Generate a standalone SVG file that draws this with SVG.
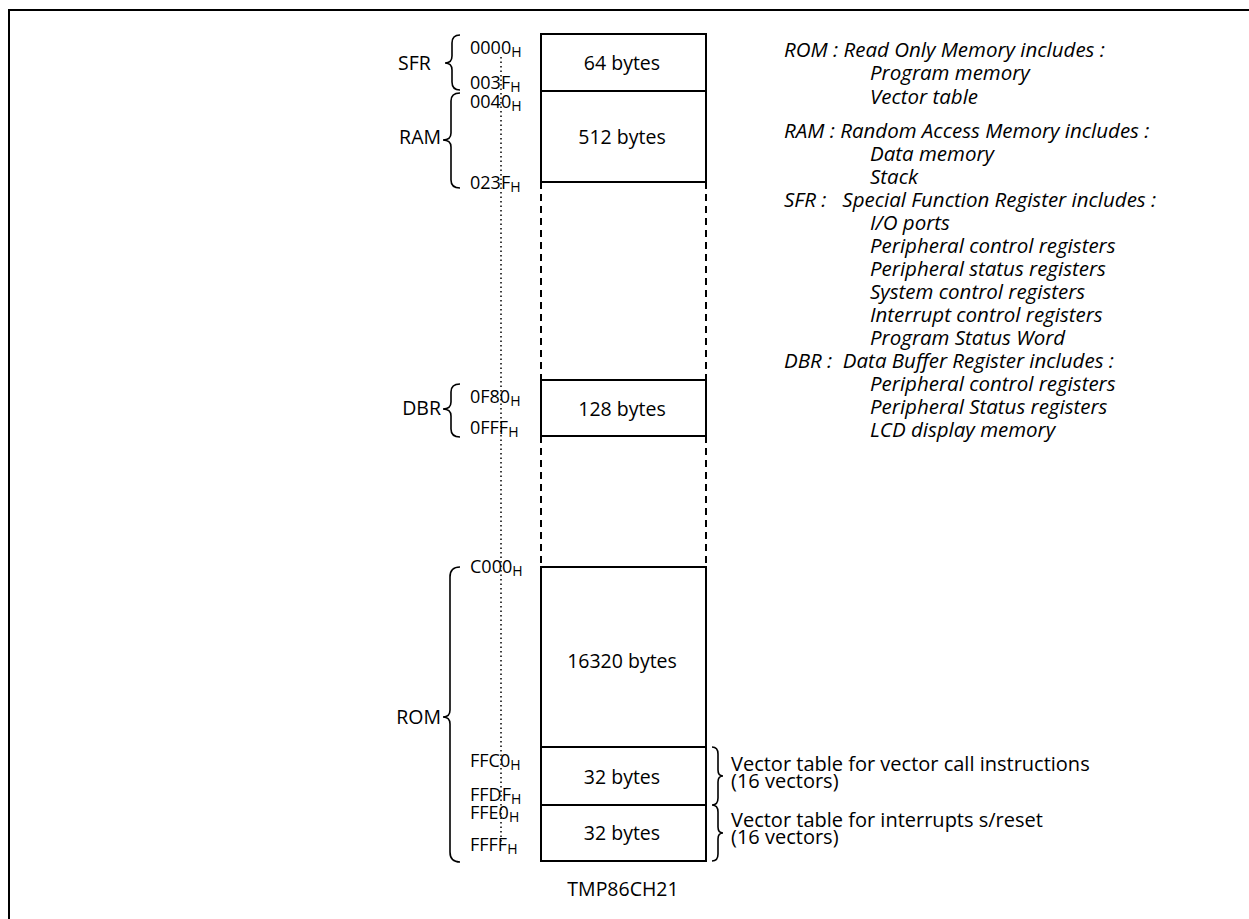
<svg xmlns="http://www.w3.org/2000/svg" width="1249" height="919" viewBox="0 0 1249 919">
<style>
text{font-family:"Open Sans","Noto Sans","DejaVu Sans",sans-serif;font-size:19.5px;fill:#000}
.c{text-anchor:middle}
.e{text-anchor:end}
.ad{font-size:18px}
.sub{font-size:14px}
.vn{font-size:20px}
.it{font-style:italic;font-weight:500;font-size:20.5px}
.box{fill:#fff;stroke:#000;stroke-width:2}
.ln{stroke:#000;stroke-width:2;fill:none}
.dash{stroke:#000;stroke-width:2;stroke-dasharray:7,5;fill:none}
.dot{stroke:#000;stroke-width:1.5;stroke-dasharray:1.5,3;fill:none}
.br{stroke:#000;stroke-width:1.6;fill:none}
</style>
<rect width="1249" height="919" fill="#fff"/>
<path class="ln" d="M9,919 V10 H1249"/>

<g id="connectors">
<line class="dot" x1="501" y1="57" x2="501" y2="842"/>
<line class="dash" x1="541" y1="182" x2="541" y2="380"/>
<line class="dash" x1="706" y1="182" x2="706" y2="380"/>
<line class="dash" x1="541" y1="436" x2="541" y2="567"/>
<line class="dash" x1="706" y1="436" x2="706" y2="567"/>
</g>

<g id="sfr-block"><rect class="box" x="541" y="34" width="165" height="57"/><text class="c" x="622" y="70">64 bytes</text></g>
<g id="ram-block"><rect class="box" x="541" y="91" width="165" height="91"/><text class="c" x="622" y="144">512 bytes</text></g>
<g id="dbr-block"><rect class="box" x="541" y="380" width="165" height="56"/><text class="c" x="622" y="416">128 bytes</text></g>
<g id="rom-block"><rect class="box" x="541" y="567" width="165" height="180"/><text class="c" x="622" y="668">16320 bytes</text></g>
<g id="vec1-block"><rect class="box" x="541" y="747" width="165" height="58"/><text class="c" x="622" y="784">32 bytes</text></g>
<g id="vec2-block"><rect class="box" x="541" y="805" width="165" height="56"/><text class="c" x="622" y="840">32 bytes</text></g>

<g id="addresses">
<text class="ad" x="470" y="54">0000<tspan class="sub" dy="3">H</tspan></text>
<text class="ad" x="470" y="89">003F<tspan class="sub" dy="3">H</tspan></text>
<text class="ad" x="470" y="108">0040<tspan class="sub" dy="3">H</tspan></text>
<text class="ad" x="470" y="189">023F<tspan class="sub" dy="3">H</tspan></text>
<text class="ad" x="470" y="403">0F80<tspan class="sub" dy="3">H</tspan></text>
<text class="ad" x="470" y="434">0FFF<tspan class="sub" dy="3">H</tspan></text>
<text class="ad" x="470" y="573">C000<tspan class="sub" dy="3">H</tspan></text>
<text class="ad" x="470" y="767">FFC0<tspan class="sub" dy="3">H</tspan></text>
<text class="ad" x="470" y="801">FFDF<tspan class="sub" dy="3">H</tspan></text>
<text class="ad" x="470" y="819">FFE0<tspan class="sub" dy="3">H</tspan></text>
<text class="ad" x="470" y="851">FFFF<tspan class="sub" dy="3">H</tspan></text>
</g>

<g id="sfr-label"><text x="398" y="70">SFR</text>
<path class="br" d="M460,35 Q452,35 452,43 V56 Q452,63 445,63 Q452,63 452,70 V82 Q452,90 460,90"/></g>
<g id="ram-label"><text class="e" x="441" y="144">RAM</text>
<path class="br" d="M460,93 Q451,93 451,101 V133 Q451,140 443,140 Q451,140 451,147 V180 Q451,188 460,188"/></g>
<g id="dbr-label"><text class="e" x="441" y="415">DBR</text>
<path class="br" d="M460,384 Q451,384 451,392 V402 Q451,409 443,409 Q451,409 451,416 V429 Q451,437 460,437"/></g>
<g id="rom-label"><text class="e" x="441" y="724">ROM</text>
<path class="br" d="M460,567 Q450,567 450,577 V710 Q450,717 443,717 Q450,717 450,724 V852 Q450,862 460,862"/></g>

<g id="vec-notes">
<path class="br" d="M712,747 Q718,747 718,754 V770 Q718,776 723,776 Q718,776 718,782 V798 Q718,805 712,805 Q718,805 718,812 V827 Q718,833 723,833 Q718,833 718,839 V854 Q718,861 712,861"/>
<text class="vn"><tspan x="731" y="771">Vector table for vector call instructions</tspan><tspan x="731" y="788">(16 vectors)</tspan></text>
<text class="vn"><tspan x="731" y="827">Vector table for interrupts s/reset</tspan><tspan x="731" y="844">(16 vectors)</tspan></text>
</g>

<g id="legend">
<text class="it" xml:space="preserve"><tspan x="784" y="57">ROM : Read Only Memory includes :</tspan><tspan x="870" y="80">Program memory</tspan><tspan x="870" y="104">Vector table</tspan></text>
<text class="it" xml:space="preserve"><tspan x="784" y="138">RAM : Random Access Memory includes :</tspan><tspan x="870" y="161">Data memory</tspan><tspan x="870" y="184">Stack</tspan></text>
<text class="it" xml:space="preserve"><tspan x="784" y="207">SFR :   Special Function Register includes :</tspan><tspan x="870" y="230">I/O ports</tspan><tspan x="870" y="253">Peripheral control registers</tspan><tspan x="870" y="276">Peripheral status registers</tspan><tspan x="870" y="299">System control registers</tspan><tspan x="870" y="322">Interrupt control registers</tspan><tspan x="870" y="345">Program Status Word</tspan></text>
<text class="it" xml:space="preserve"><tspan x="784" y="368">DBR :  Data Buffer Register includes :</tspan><tspan x="870" y="391">Peripheral control registers</tspan><tspan x="870" y="414">Peripheral Status registers</tspan><tspan x="870" y="437">LCD display memory</tspan></text>
</g>

<g id="caption"><text class="c" x="623" y="896">TMP86CH21</text></g>
</svg>
